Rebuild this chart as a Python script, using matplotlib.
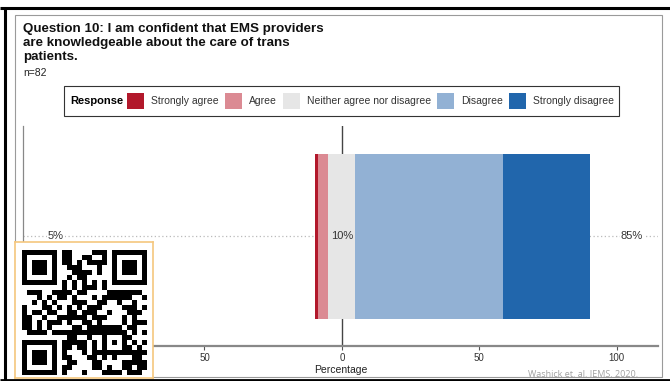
import numpy as np
import matplotlib
matplotlib.use('Agg')
import matplotlib.pyplot as plt
from matplotlib.patches import Rectangle

plt.rcParams['font.family'] = ['Liberation Sans', 'DejaVu Sans']

# data
responses = ['Strongly agree', 'Agree', 'Neither agree nor disagree',
             'Disagree', 'Strongly disagree']
counts = [1, 3, 8, 44, 26]
n_total = 82
colors = ['#B2182B', '#DB8A93', '#E6E6E6', '#92B1D4', '#2166AC']
low_label, neutral_label, high_label = '5%', '10%', '85%'
xticks = [-50, 0, 50, 100]
xtick_labels = ['50', '0', '50', '100']
title = ('Question 10: I am confident that EMS providers\n'
         'are knowledgeable about the care of trans\npatients.')

pct = [c / n_total * 100 for c in counts]

W, H = 670, 381
fig = plt.figure(figsize=(W / 100, H / 100), dpi=100)


def px(x0, y0, x1, y1):
    # pixel box (top-left origin) -> figure fraction
    return [x0 / W, 1 - y1 / H, (x1 - x0) / W, (y1 - y0) / H]


# background / decoration layer in pixel units
deco = fig.add_axes([0, 0, 1, 1], zorder=0)
deco.set_xlim(0, W)
deco.set_ylim(H, 0)
deco.axis('off')

deco.plot([0, W], [8, 8], color='black', lw=2.2, solid_capstyle='butt')
deco.plot([4.5, 4.5], [8, H], color='black', lw=2.2, solid_capstyle='butt')
deco.plot([0, W], [380, 380], color='black', lw=2, solid_capstyle='butt')
deco.add_patch(Rectangle((15, 15), 647, 362, fill=False, ec='#9a9a9a', lw=0.8))

deco.text(23, 23, title, fontsize=9.6, fontweight='bold', va='top',
          linespacing=1.2, color='#111111')
deco.text(23, 73, 'n=%d' % n_total, fontsize=7.5, va='center', color='#222222')

# legend
deco.add_patch(Rectangle((64, 86), 555, 30, fc='white', ec='#333333', lw=0.8))
renderer = fig.canvas.get_renderer()
t = deco.text(70, 101, 'Response', fontsize=8, fontweight='bold', va='center')
x = t.get_window_extent(renderer).x1 + 4
for r, c in zip(responses, colors):
    deco.add_patch(Rectangle((x, 93), 17, 16, fc=c, ec='none'))
    t = deco.text(x + 24, 101, r, fontsize=7.5, va='center', color='#333333')
    x = t.get_window_extent(renderer).x1 + 6

deco.text(528, 374, 'Washick et. al. JEMS. 2020.', fontsize=6.5,
          color='#a0a0a0', va='center', family=['Open Sans', 'DejaVu Sans'])

# main chart
ax = fig.add_axes(px(23, 126, 658, 346), zorder=1)
ax.patch.set_alpha(0)
left = -(pct[0] + pct[1] + pct[2] / 2)
for p, c in zip(pct, colors):
    ax.barh(1, p, left=left, height=0.9, color=c, zorder=3)
    left += p
ax.axvline(0, color='#444444', lw=1, zorder=2)
ax.axhline(1, color='#bbbbbb', lw=0.9, ls=(0, (1, 2)), zorder=1)
lbl = dict(ha='center', va='center', fontsize=8, color='#333333', zorder=4)
ax.text(-104, 1, low_label, bbox=dict(fc='white', ec='none', pad=0.5), **lbl)
ax.text(0, 1, neutral_label, **lbl)
ax.text(105.5, 1, high_label, bbox=dict(fc='white', ec='none', pad=0.5), **lbl)

ax.set_xlim(-116, 115)
ax.set_ylim(0.4, 1.6)
ax.set_xticks(xticks)
ax.set_xticklabels(xtick_labels)
ax.set_yticks([])
ax.tick_params(axis='x', length=3, width=0.8, color='#555555',
               labelsize=7, labelcolor='#333333', pad=2)
ax.set_xlabel('Percentage', fontsize=7.5, color='#222222', labelpad=1.5)
for s in ['top', 'right']:
    ax.spines[s].set_visible(False)
ax.spines['bottom'].set_color('#888888')
ax.spines['bottom'].set_linewidth(1.6)
ax.spines['left'].set_color('#888888')
ax.spines['left'].set_linewidth(0.9)

# QR code overlay
N = 25
ii, jj = np.indices((N, N))
qr = ((((ii * 31 + jj * 17) ^ (ii * jj + 3 * ii)) % 9) < 5).astype(int)
qr[0:8, 0:8] = 0
qr[0:8, N - 8:] = 0
qr[N - 8:, 0:8] = 0


def finder(r, c):
    qr[r:r + 7, c:c + 7] = 1
    qr[r + 1:r + 6, c + 1:c + 6] = 0
    qr[r + 2:r + 5, c + 2:c + 5] = 1


finder(0, 0)
finder(0, N - 7)
finder(N - 7, 0)
qr[6, 8:N - 8] = (np.arange(8, N - 8) % 2 == 0)
qr[8:N - 8, 6] = (np.arange(8, N - 8) % 2 == 0)
qr[16:21, 16:21] = 1
qr[17:20, 17:20] = 0
qr[18, 18] = 1

qax = fig.add_axes(px(15, 242, 153, 378), zorder=5)
qax.set_facecolor('white')
qax.imshow(qr, cmap='gray_r', interpolation='nearest', aspect='auto',
           extent=(22, 147, 375, 250))
qax.set_xlim(15, 153)
qax.set_ylim(378, 242)
qax.set_xticks([])
qax.set_yticks([])
for s in qax.spines.values():
    s.set_color('#F5C77E')
    s.set_linewidth(1.2)

fig.savefig('out.png', dpi=100)
